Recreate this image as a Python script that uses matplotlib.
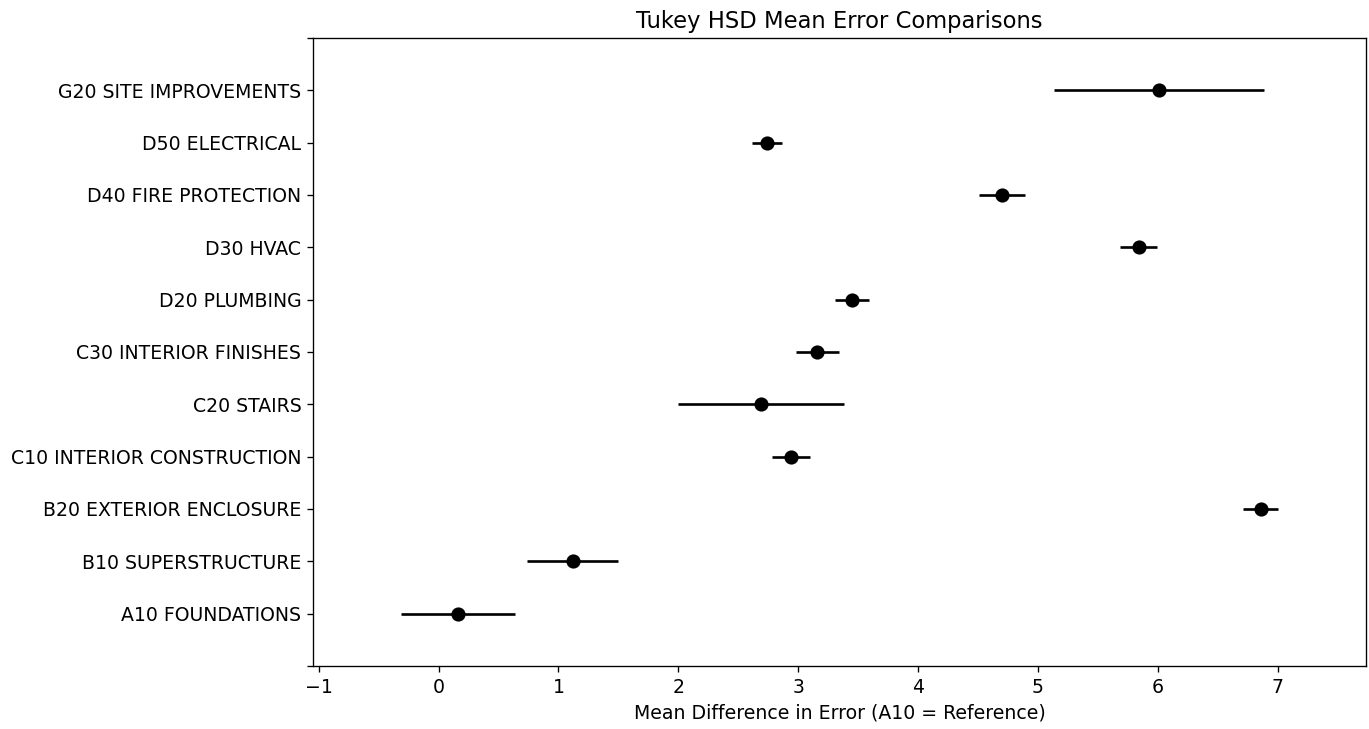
import numpy as np
import matplotlib
matplotlib.use("Agg")
import matplotlib.pyplot as plt

plt.rcParams['font.size'] = 11.3

# Cost groups, bottom to top on the y axis
groups = ['A10 FOUNDATIONS', 'B10 SUPERSTRUCTURE', 'B20 EXTERIOR ENCLOSURE',
          'C10 INTERIOR CONSTRUCTION', 'C20 STAIRS', 'C30 INTERIOR FINISHES',
          'D20 PLUMBING', 'D30 HVAC', 'D40 FIRE PROTECTION', 'D50 ELECTRICAL',
          'G20 SITE IMPROVEMENTS']

# Mean difference in error per group and the half width of its interval
mean_diff = [0.16, 1.12, 6.86, 2.94, 2.69, 3.16, 3.45, 5.84, 4.70, 2.74, 6.01]
half_width = [0.475, 0.38, 0.145, 0.16, 0.69, 0.18, 0.14, 0.155, 0.19, 0.125, 0.875]

means = np.array(mean_diff)
hw = np.array(half_width)

fig = plt.figure(figsize=(1369 / 120, 729 / 120), dpi=120)
ax = fig.add_axes([313 / 1369, 1 - 666 / 729, 1053 / 1369, 628 / 729])

ypos = np.arange(len(means))
ax.errorbar(means, ypos, xerr=hw, marker='o', markersize=7.5,
            linestyle='None', color='k', ecolor='k', elinewidth=1.6)

# x range padded by a tenth of the span, like the usual simultaneous CI plot
lo = (means - hw).min()
hi = (means + hw).max()
r = hi - lo
ax.set_xlim(lo - r / 10, hi + r / 10)
ax.set_ylim(-1, len(means))

ax.set_yticks(np.arange(-1, len(means) + 1))
ax.set_yticklabels([''] + groups + [''])

ax.set_title('Tukey HSD Mean Error Comparisons')
ax.set_xlabel('Mean Difference in Error (A10 = Reference)')

fig.savefig('out.png', dpi=120)
